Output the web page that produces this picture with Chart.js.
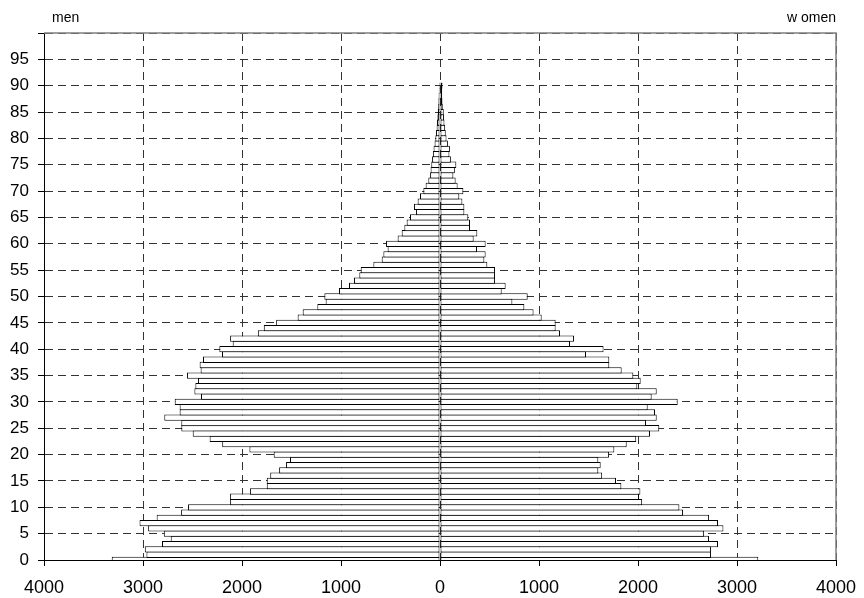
<!DOCTYPE html>
<html>
<head>
<meta charset="utf-8">
<script src="https://cdn.jsdelivr.net/npm/chart.js@4.4.1/dist/chart.umd.min.js"></script>
<style>
html,body{margin:0;padding:0;background:#fff;}
#c{display:block;}
</style>
</head>
<body>
<canvas id="c" width="864" height="598"></canvas>
<script>
// Ages (categories), 0..90
const ages = [0,1,2,3,4,5,6,7,8,9,10,11,12,13,14,15,16,17,18,19,20,21,22,23,24,25,26,27,28,29,30,
  31,32,33,34,35,36,37,38,39,40,41,42,43,44,45,46,47,48,49,50,51,52,53,54,55,56,57,58,59,60,
  61,62,63,64,65,66,67,68,69,70,71,72,73,74,75,76,77,78,79,80,81,82,83,84,85,86,87,88,89,90];

// Men (drawn to the left)
const men = [3316,2965,2982,2808,2720,2790,2948,3035,2862,2615,
  2545,2120,2120,1920,1750,1750,1715,1625,1555,1515,
  1680,1925,2200,2327,2498,2613,2613,2785,2630,2630,
  2680,2414,2481,2471,2444,2556,2418,2428,2394,2202,
  2229,2094,2120,1840,1780,1655,1438,1387,1239,1155,
  1168,1020,919,869,815,801,673,589,572,529,
  545,428,387,360,337,303,242,263,226,202,
  168,145,118,100,95,88,80,72,65,55,
  47,40,34,30,26,22,18,16,14,12,10];

// Women (drawn to the right)
const women = [3215,2737,2737,2808,2717,2668,2863,2808,2718,2455,
  2418,2042,2010,2024,1832,1778,1638,1599,1623,1599,
  1708,1761,1886,1982,2121,2215,2081,2189,2172,2098,
  2401,2138,2189,1993,2027,1953,1835,1710,1710,1475,
  1652,1313,1354,1212,1168,1168,1027,945,852,731,
  886,623,663,556,556,556,478,448,461,374,
  461,340,377,303,303,286,246,246,226,195,
  236,178,158,135,150,165,110,95,100,80,
  66,58,52,45,40,38,28,25,22,22,25];

const sideLabels = ['men', 'w omen'];
const xRange = [-4000, 4000];
const xStep = 1000;
const yRange = [0, 100];
const yStep = 5;

const FONT = '"Liberation Sans", Arial, sans-serif';

const framePlugin = {
  id: 'frame',
  afterDraw(chart) {
    const {ctx, chartArea: a} = chart;
    ctx.save();
    ctx.strokeStyle = '#808080';
    ctx.lineWidth = 1.5;
    ctx.beginPath();
    ctx.moveTo(a.left, a.top);
    ctx.lineTo(a.right, a.top);
    ctx.lineTo(a.right, a.bottom);
    ctx.stroke();
    ctx.fillStyle = '#000';
    ctx.font = '14px ' + FONT;
    ctx.textBaseline = 'middle';
    ctx.textAlign = 'left';
    ctx.fillText(sideLabels[0], 52, 18);
    ctx.textAlign = 'right';
    ctx.fillText(sideLabels[1], a.right, 18);
    ctx.restore();
  }
};

const barStyle = {
  backgroundColor: '#ffffff',
  borderColor: '#000000',
  borderWidth: 1,
  borderSkipped: false,
  barThickness: 6.3,
  grouped: false,
  inflateAmount: 0
};

new Chart(document.getElementById('c'), {
  type: 'bar',
  data: {
    datasets: [
      Object.assign({label: sideLabels[0], data: ages.map((a, i) => ({x: -men[i], y: a}))}, barStyle),
      Object.assign({label: sideLabels[1], data: ages.map((a, i) => ({x: women[i], y: a}))}, barStyle)
    ]
  },
  options: {
    indexAxis: 'y',
    responsive: false,
    animation: false,
    devicePixelRatio: 1,
    layout: {padding: {top: 33, right: 28, bottom: 0, left: 0}},
    plugins: {legend: {display: false}, tooltip: {enabled: false}},
    scales: {
      x: {
        type: 'linear',
        min: xRange[0], max: xRange[1],
        offset: false,
        afterFit: s => { s.height = 38; },
        ticks: {
          stepSize: xStep,
          callback: v => String(Math.abs(v)),
          font: {family: FONT, size: 18, lineHeight: 2.44},
          color: '#000',
          padding: 0,
          maxRotation: 0,
          autoSkip: false
        },
        grid: {offset: false, color: '#333', lineWidth: 1, tickColor: '#000', tickLength: 6, tickBorderDash: []},
        border: {color: '#000', width: 1, dash: [8, 5]}
      },
      y: {
        type: 'linear',
        min: yRange[0], max: yRange[1],
        offset: false,
        afterFit: s => { s.width = 44; },
        ticks: {
          stepSize: yStep,
          callback: v => (v === 100 ? '' : String(v)),
          font: {family: FONT, size: 17},
          color: '#000',
          padding: 9,
          autoSkip: false
        },
        grid: {offset: false, color: '#333', lineWidth: 1, tickColor: '#000', tickLength: 6, tickBorderDash: []},
        border: {color: '#000', width: 1, dash: [8, 5]}
      }
    }
  },
  plugins: [framePlugin]
});
</script>
</body>
</html>
